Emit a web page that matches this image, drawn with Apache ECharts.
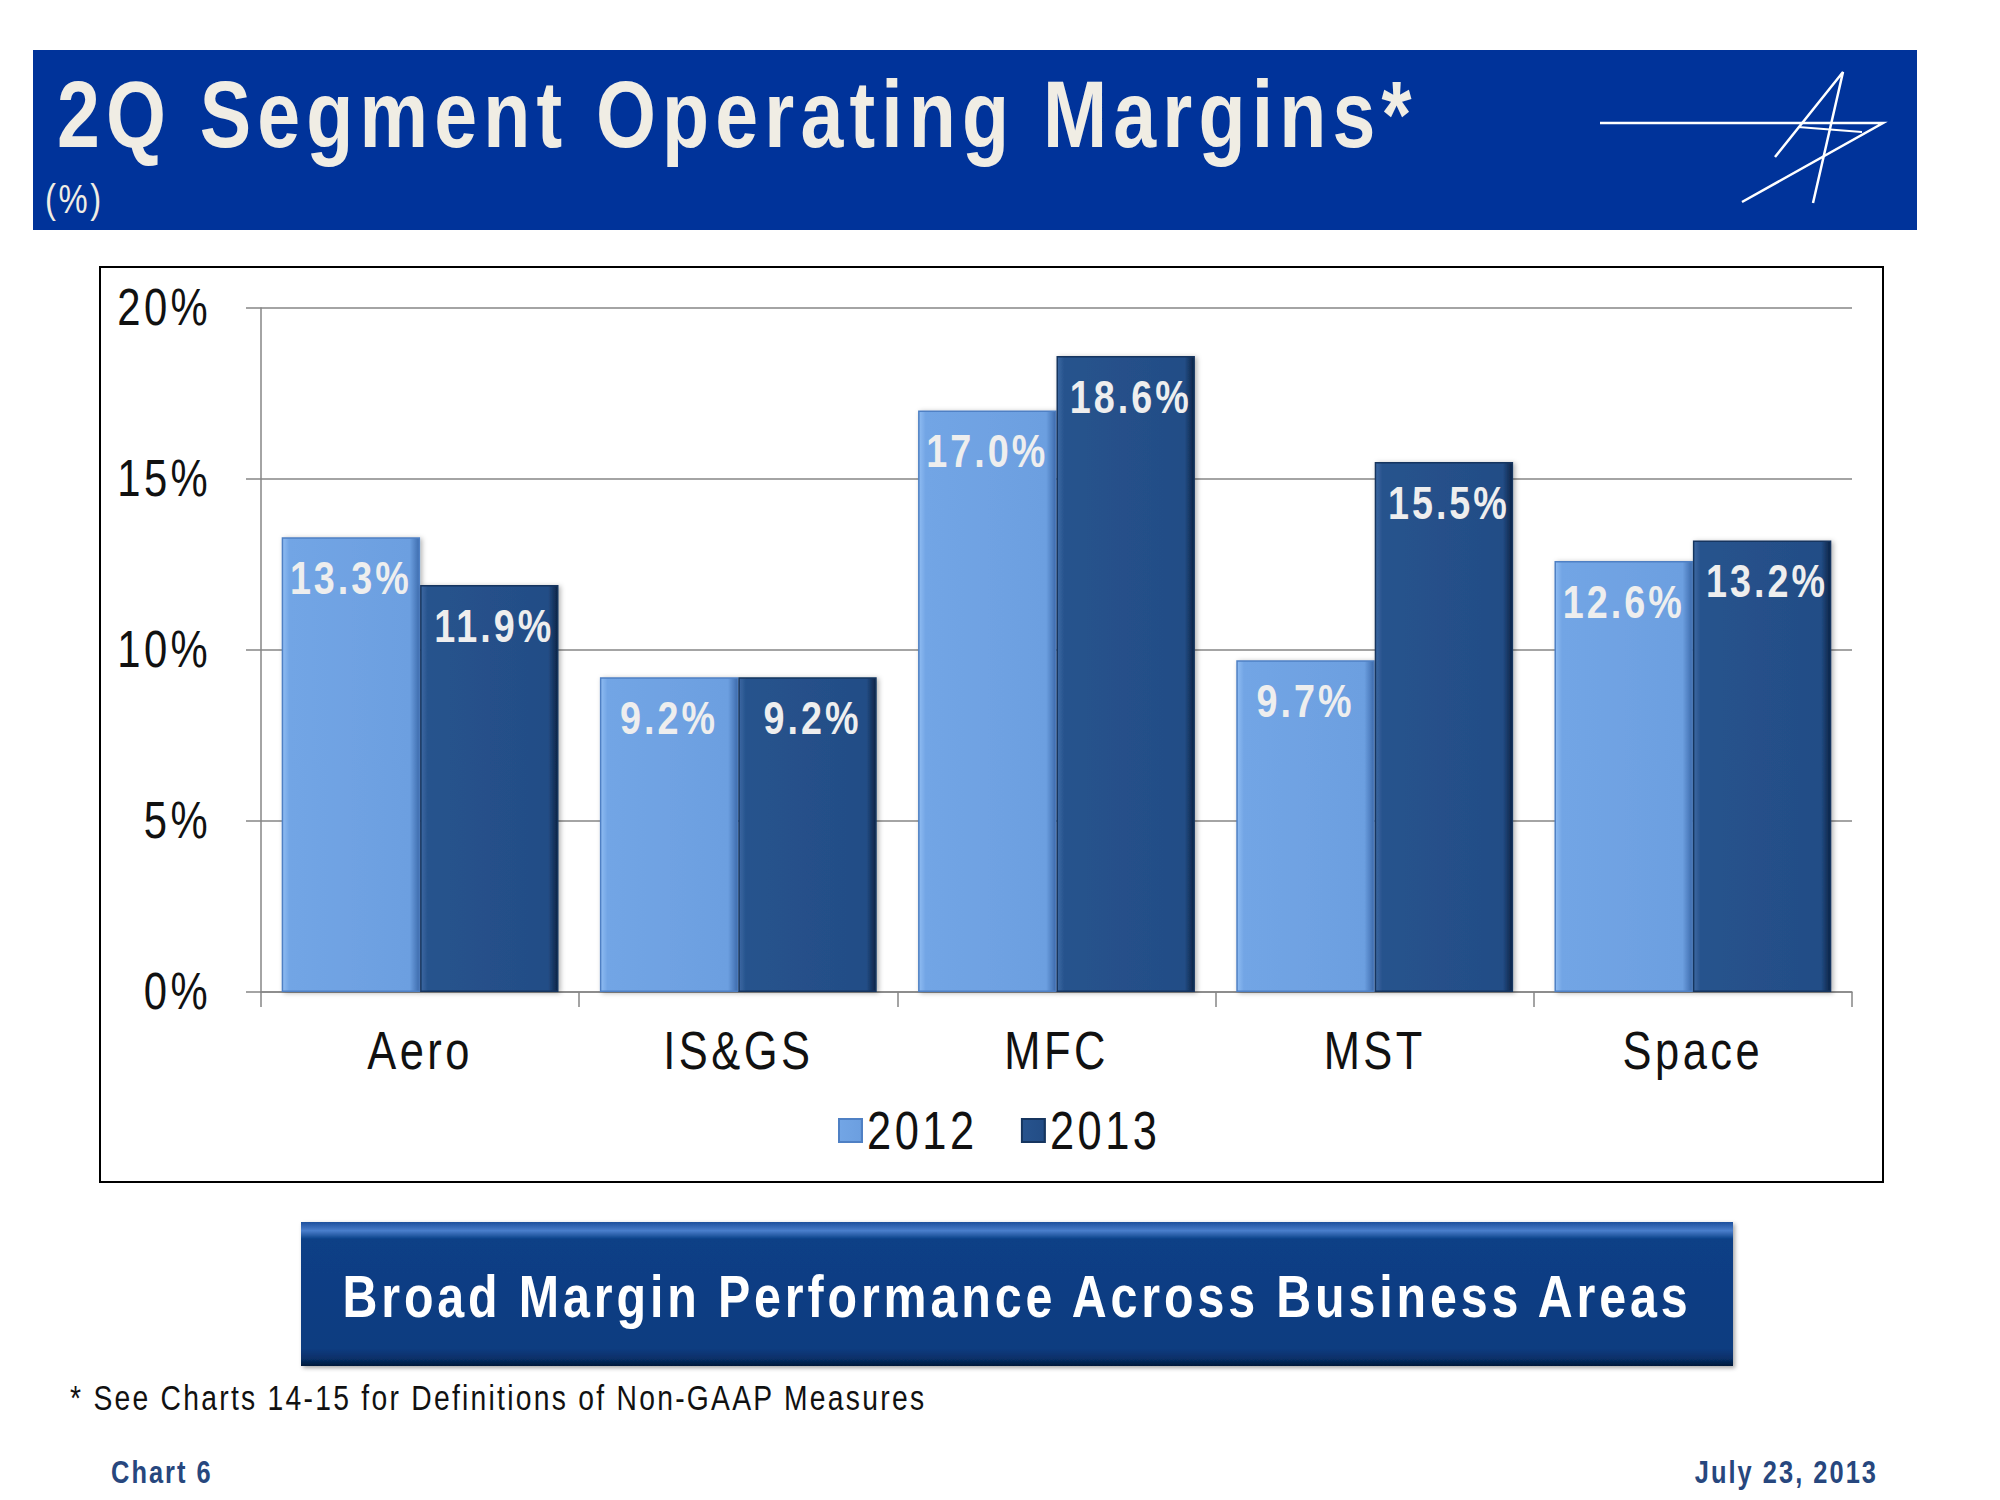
<!DOCTYPE html>
<html><head><meta charset="utf-8">
<script src="https://cdn.jsdelivr.net/npm/echarts@6/dist/echarts.min.js"></script>
<style>
html,body{margin:0;padding:0;background:#fff;}
#chart{width:2000px;height:1500px;}
#chart text{letter-spacing:0.08em;}
</style></head><body><div id="chart"></div>
<script>
const categories = ['Aero', 'IS&GS', 'MFC', 'MST', 'Space'];
const seriesNames = ['2012', '2013'];
const values2012 = [13.3, 9.2, 17.0, 9.7, 12.6];
const values2013 = [11.9, 9.2, 18.6, 15.5, 13.2];
const yMin = 0, yMax = 20, yStep = 5;
const titleText = '2Q Segment Operating Margins*';
const subtitleText = '(%)';
const bannerText = 'Broad Margin Performance Across Business Areas';
const footnoteText = '* See Charts 14-15 for Definitions of Non-GAAP Measures';
const footerLeft = 'Chart 6';
const footerRight = 'July 23, 2013';

const FONT = "'Liberation Sans',Arial,sans-serif";
const NARROW_K = 0.82; // Arial Narrow is ~82% of Arial width
const chart = echarts.init(document.getElementById('chart'), null, {renderer: 'svg'});

const lightGrad = new echarts.graphic.LinearGradient(0, 0, 1, 0, [
  {offset: 0, color: '#8fbcf2'}, {offset: 0.05, color: '#72a5e5'},
  {offset: 0.93, color: '#6c9fe0'}, {offset: 1, color: '#3e6cae'}]);
const darkGrad = new echarts.graphic.LinearGradient(0, 0, 1, 0, [
  {offset: 0, color: '#3d69a3'}, {offset: 0.05, color: '#27538d'},
  {offset: 0.93, color: '#234d86'}, {offset: 1, color: '#0c2345'}]);
const bannerGrad = new echarts.graphic.LinearGradient(0, 0, 0, 1, [
  {offset: 0, color: '#1d4f9c'}, {offset: 0.06, color: '#4a7fcc'},
  {offset: 0.12, color: '#0b3f86'}, {offset: 0.88, color: '#0a3c80'},
  {offset: 0.95, color: '#072f68'}, {offset: 1, color: '#03183a'}]);

const labelCfg = {
  show: true, position: 'insideTop', distance: 18,
  color: '#eeeeee', fontFamily: FONT, fontWeight: 'bold', fontSize: 46,
  formatter: p => p.value.toFixed(1) + '%'
};

chart.setOption({
  animation: false,
  grid: {left: 261, right: 148, top: 308, bottom: 508, containLabel: false},
  legend: {
    data: seriesNames, left: 833, top: 1099, itemWidth: 23, itemHeight: 23,
    itemGap: 36, icon: 'rect',
    textStyle: {fontFamily: FONT, fontSize: 53, color: '#111'}
  },
  xAxis: {
    type: 'category', data: categories,
    axisLine: {show: true, lineStyle: {color: '#868686', width: 1.5}},
    axisTick: {show: true, length: 15, alignWithLabel: false, lineStyle: {color: '#868686', width: 1.5}},
    axisLabel: {fontFamily: FONT, fontSize: 53, color: '#111', margin: 32}
  },
  yAxis: {
    type: 'value', min: yMin, max: yMax, interval: yStep,
    axisLine: {show: true, lineStyle: {color: '#868686', width: 1.5}},
    axisTick: {show: true, length: 15, lineStyle: {color: '#868686', width: 1.5}},
    splitLine: {show: true, lineStyle: {color: '#868686', width: 1.5}},
    axisLabel: {fontFamily: FONT, fontSize: 51, color: '#111', margin: 50, formatter: '{value}%'}
  },
  series: [
    {name: seriesNames[0], type: 'bar', data: values2012, barGap: '0%', barCategoryGap: '13%',
     itemStyle: {color: lightGrad, borderColor: '#4f80c4', borderWidth: 1.5,
       shadowColor: 'rgba(0,0,0,0.3)', shadowBlur: 5, shadowOffsetX: 2, shadowOffsetY: 1},
     label: labelCfg},
    {name: seriesNames[1], type: 'bar', data: values2013, barGap: '0%', barCategoryGap: '13%',
     itemStyle: {color: darkGrad, borderColor: '#16355f', borderWidth: 1.5,
       shadowColor: 'rgba(0,0,0,0.3)', shadowBlur: 5, shadowOffsetX: 2, shadowOffsetY: 1},
     label: Object.assign({}, labelCfg, {offset: [5, 0]})}
  ],
  graphic: [
    {type: 'rect', z: -10, shape: {x: 33, y: 50, width: 1884, height: 180}, style: {fill: '#00339a'}},
    {type: 'text', z: 10, style: {text: titleText, x: 57, y: 114, fill: '#f0ede4', fontFamily: FONT,
      fontWeight: 'bold', fontSize: 94, verticalAlign: 'middle', align: 'left'}},
    {type: 'text', z: 10, style: {text: subtitleText, x: 45, y: 199, fill: '#f0ede4', fontFamily: FONT,
      fontSize: 40, verticalAlign: 'middle', align: 'left'}},
    {type: 'polyline', z: 10, shape: {points: [[1600, 123], [1883, 123], [1742, 202]]},
      style: {stroke: '#ffffff', lineWidth: 2.5, fill: 'none'}},
    {type: 'polyline', z: 10, shape: {points: [[1775, 157], [1843, 72], [1813, 203]]},
      style: {stroke: '#ffffff', lineWidth: 2.5, fill: 'none'}},
    {type: 'polyline', z: 10, shape: {points: [[1798, 127], [1862, 132]]},
      style: {stroke: '#ffffff', lineWidth: 2, fill: 'none'}},
    {type: 'rect', z: -5, shape: {x: 100, y: 267, width: 1783, height: 915},
      style: {fill: 'none', stroke: '#000', lineWidth: 2}},
    {type: 'rect', z: 5, shape: {x: 301, y: 1222, width: 1432, height: 144},
      style: {fill: bannerGrad, shadowColor: 'rgba(0,0,0,0.35)', shadowBlur: 4, shadowOffsetX: 2, shadowOffsetY: 2}},
    {type: 'text', z: 10, style: {text: bannerText, x: 1017, y: 1296, fill: '#ffffff', fontFamily: FONT,
      fontWeight: 'bold', fontSize: 59, align: 'center', verticalAlign: 'middle'}},
    {type: 'text', z: 10, style: {text: footnoteText, x: 70, y: 1398, fill: '#111', fontFamily: FONT,
      fontSize: 34.5, align: 'left', verticalAlign: 'middle'}},
    {type: 'text', z: 10, style: {text: footerLeft, x: 111, y: 1472, fill: '#27477e', fontFamily: FONT,
      fontWeight: 'bold', fontSize: 31, align: 'left', verticalAlign: 'middle'}},
    {type: 'text', z: 10, style: {text: footerRight, x: 1878, y: 1472, fill: '#27477e', fontFamily: FONT,
      fontWeight: 'bold', fontSize: 31, align: 'right', verticalAlign: 'middle'}}
  ]
});

// Condense every text around its own anchor point (the reference uses a narrow typeface).
function condense() {
  const svg = document.querySelector('#chart svg');
  if (!svg) return;
  svg.querySelectorAll('text').forEach(t => {
    if (t.getAttribute('data-cond') === '1') return;
    const x = parseFloat(t.getAttribute('x') || 0), y = parseFloat(t.getAttribute('y') || 0);
    const tr = t.getAttribute('transform') || '';
    t.setAttribute('transform', (tr + ' translate(' + x + ' ' + y + ') scale(' + NARROW_K + ' 1) translate(' + (-x) + ' ' + (-y) + ')').trim());
    t.setAttribute('data-cond', '1');
  });
}
condense();
chart.on('finished', condense);
setTimeout(condense, 0);
</script></body></html>
